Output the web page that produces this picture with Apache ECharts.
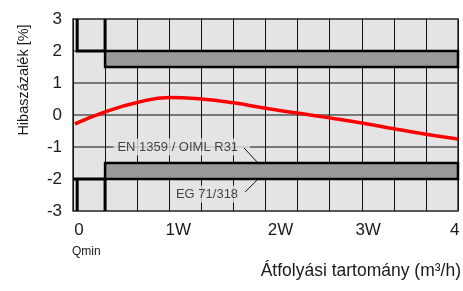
<!DOCTYPE html>
<html>
<head>
<meta charset="utf-8">
<script src="https://cdn.jsdelivr.net/npm/echarts@6/dist/echarts.min.js"></script>
<style>
html, body { margin: 0; padding: 0; background: #fff; }
#chart { width: 463px; height: 291px; }
</style>
</head>
<body>
<div id="chart"></div>
<script>
// x in grid units (12 units = 4 m3/h), y in %
var curveX = [0.06, 1, 2, 3, 4, 5, 6, 7, 8, 9, 10, 11, 12];
var curveY = [-0.28, 0.1, 0.39, 0.55, 0.5, 0.38, 0.21, 0.06, -0.09, -0.25, -0.43, -0.6, -0.75];
var xTickPos = [0.19, 3.28, 6.47, 9.2, 11.9];
var xTickText = ['0', '1W', '2W', '3W', '4'];
var upperBand = [[1, 2], [12, 1.5]];
var lowerBand = [[1, -1.5], [12, -2]];
var qminLines = [
    [[0.13, 3], [0.13, 2], [1, 2], [1, 3]],
    [[0, -2], [1, -2]],
    [[0.13, -2], [0.13, -3]],
    [[1, -2], [1, -3]]
];
var leaders = [
    [[5.33, -1.03], [5.74, -1.47]],
    [[5.36, -2.41], [5.74, -2.03]]
];
var notes = [[5.52, -1.0, 'EN 1359 / OIML R31'], [5.52, -2.47, 'EG 71/318']];

var font = 'Arial, "Liberation Sans", sans-serif';
var curve = curveX.map(function (x, i) { return [x, curveY[i]]; });

var chart = echarts.init(document.getElementById('chart'));
var option = {
    animation: false,
    backgroundColor: '#fff',
    grid: {
        left: 73, right: 5, top: 19, bottom: 80,
        show: true,
        backgroundColor: '#e4e4e4',
        borderColor: '#333',
        borderWidth: 1.5,
        containLabel: false,
        outerBoundsMode: 'none'
    },
    xAxis: {
        type: 'value',
        min: 0, max: 12, interval: 1,
        axisLine: { show: false },
        axisTick: { show: false },
        axisLabel: {
            customValues: xTickPos,
            margin: 11,
            fontFamily: font, fontSize: 17, color: '#1a1a1a',
            formatter: function (v) {
                var i = xTickPos.indexOf(v);
                return i < 0 ? '' : xTickText[i];
            }
        },
        splitLine: { show: true, lineStyle: { color: '#111', width: 1 } }
    },
    yAxis: {
        type: 'value',
        min: -3, max: 3, interval: 1,
        axisLine: { show: false },
        axisTick: { show: false },
        axisLabel: { margin: 11, fontFamily: font, fontSize: 17, color: '#1a1a1a' },
        splitLine: { show: true, lineStyle: { color: '#555', width: 1.5 } }
    },
    graphic: [
        {
            type: 'text', x: 24, y: 80, rotation: Math.PI / 2,
            style: {
                text: 'Hibaszázalék [%]', font: '14.5px ' + font, fill: '#1a1a1a',
                align: 'center', verticalAlign: 'middle'
            }
        },
        {
            type: 'text', left: 72, top: 246,
            style: { text: 'Qmin', font: '12px ' + font, fill: '#1a1a1a' }
        },
        {
            type: 'text', right: 2, top: 262,
            style: { text: 'Átfolyási tartomány (m³/h)', font: '17.5px ' + font, fill: '#1a1a1a' }
        }
    ],
    series: [
        {
            name: 'bands',
            type: 'line',
            data: [],
            markArea: {
                silent: true,
                itemStyle: { color: '#9a9a9a', borderColor: '#000', borderWidth: 2.5 },
                data: [
                    [{ coord: upperBand[0] }, { coord: upperBand[1] }],
                    [{ coord: lowerBand[0] }, { coord: lowerBand[1] }]
                ]
            }
        },
        {
            name: 'qmin',
            type: 'lines',
            coordinateSystem: 'cartesian2d',
            polyline: true,
            z: 4,
            lineStyle: { color: '#000', width: 3, opacity: 1 },
            data: qminLines.map(function (c) { return { coords: c }; })
        },
        {
            name: 'curve',
            type: 'line',
            smooth: 0.5,
            symbol: 'none',
            z: 6,
            lineStyle: { color: '#ff0000', width: 3.5 },
            data: curve
        },
        {
            name: 'notes',
            type: 'scatter',
            symbolSize: 0.01,
            z: 3,
            label: {
                show: true,
                position: 'left',
                distance: 0,
                formatter: function (p) { return p.data[2]; },
                fontFamily: font, fontSize: 13, color: '#1a1a1a',
                backgroundColor: '#e4e4e4',
                padding: [2, 12, 2, 4]
            },
            data: notes
        },
        {
            name: 'leaders',
            type: 'lines',
            coordinateSystem: 'cartesian2d',
            z: 5,
            lineStyle: { color: '#111', width: 1, opacity: 1 },
            data: leaders.map(function (c) { return { coords: c }; })
        }
    ]
};
chart.setOption(option);
</script>
</body>
</html>
